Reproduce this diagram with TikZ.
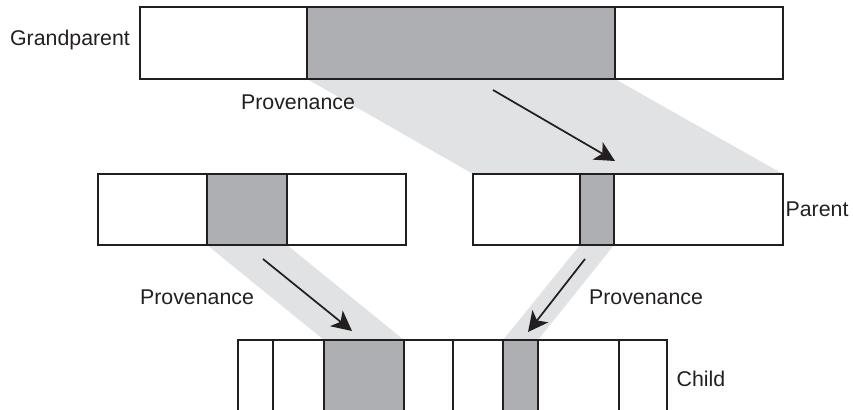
\documentclass[tikz,border=0pt]{standalone}
\usepackage{fontspec}
\setmainfont{Liberation Sans}
\usetikzlibrary{arrows.meta}

\definecolor{segdark}{RGB}{174,175,178}
\definecolor{bandgray}{RGB}{225,226,228}
\definecolor{inkblack}{RGB}{35,31,32}

\tikzset{every picture/.style={line width=1.5pt}}
\tikzset{
  seg/.style={draw=inkblack, fill=white, line width=1.5pt},
  segshade/.style={seg, fill=segdark},
  band/.style={fill=bandgray, draw=none},
  provarrow/.style={draw=inkblack, line width=1.3pt, -{Stealth[length=15pt,width=15pt,inset=4pt]}},
  lbl/.style={font=\fontsize{16}{19}\selectfont, text=inkblack}
}

\begin{document}
\begin{tikzpicture}[x=0.75pt,y=0.75pt,yscale=-1,xscale=1]
	\useasboundingbox (0,0) rectangle (853,410);
	\clip (0,0) rectangle (853,410);

	%Shape: Bands
	\fill [band] (307,79) -- (615,79) -- (783,174) -- (473,174) -- cycle ;
	\fill [band] (207,245) -- (287,245) -- (404,340) -- (324,340) -- cycle ;
	\fill [band] (580,245) -- (614,245) -- (538,340) -- (503,340) -- cycle ;

	%Shape: Rectangle - grandparent
	\draw [seg] (140,7.5) rectangle (307,79) ;
	\draw [segshade] (307,7.5) rectangle (615,79) ;
	\draw [seg] (615,7.5) rectangle (783,79) ;

	%Shape: Rectangle - left middle
	\draw [seg] (98,173.5) rectangle (207,245) ;
	\draw [segshade] (207,173.5) rectangle (287,245) ;
	\draw [seg] (287,173.5) rectangle (406,245) ;

	%Shape: Rectangle - parent
	\draw [seg] (473,174) rectangle (580,245) ;
	\draw [segshade] (580,174) rectangle (614,245) ;
	\draw [seg] (614,174) rectangle (783,245) ;

	%Shape: Rectangle - child
	\draw [seg] (238,340) rectangle (273,425) ;
	\draw [seg] (273,340) rectangle (324,425) ;
	\draw [segshade] (324,340) rectangle (404,425) ;
	\draw [seg] (404,340) rectangle (453,425) ;
	\draw [seg] (453,340) rectangle (503,425) ;
	\draw [segshade] (503,340) rectangle (538,425) ;
	\draw [seg] (538,340) rectangle (619,425) ;
	\draw [seg] (619,340) rectangle (667,425) ;

	%Straight Lines
	\coordinate (gpfrom) at (493,90) ;
	\coordinate (gpto) at (615,161) ;
	\coordinate (leftfrom) at (263,259) ;
	\coordinate (leftto) at (352,331) ;
	\coordinate (rightfrom) at (585,259) ;
	\coordinate (rightto) at (528,332) ;
	\draw [provarrow] (gpfrom) -- (gpto) ;
	\draw [provarrow] (leftfrom) -- (leftto) ;
	\draw [provarrow] (rightfrom) -- (rightto) ;

	% Text Node
	\node [lbl] (grandparentlbl) at (70,40) {Grandparent};
	% Text Node
	\node [lbl] (provtoplbl) at (298,102) {Provenance};
	% Text Node
	\node [lbl] (parentlbl) at (817,209) {Parent};
	% Text Node
	\node [lbl] (provleftlbl) at (197,297) {Provenance};
	% Text Node
	\node [lbl] (provrightlbl) at (646,297) {Provenance};
	% Text Node
	\node [lbl] (childlbl) at (701,379) {Child};

\end{tikzpicture}
\end{document}
